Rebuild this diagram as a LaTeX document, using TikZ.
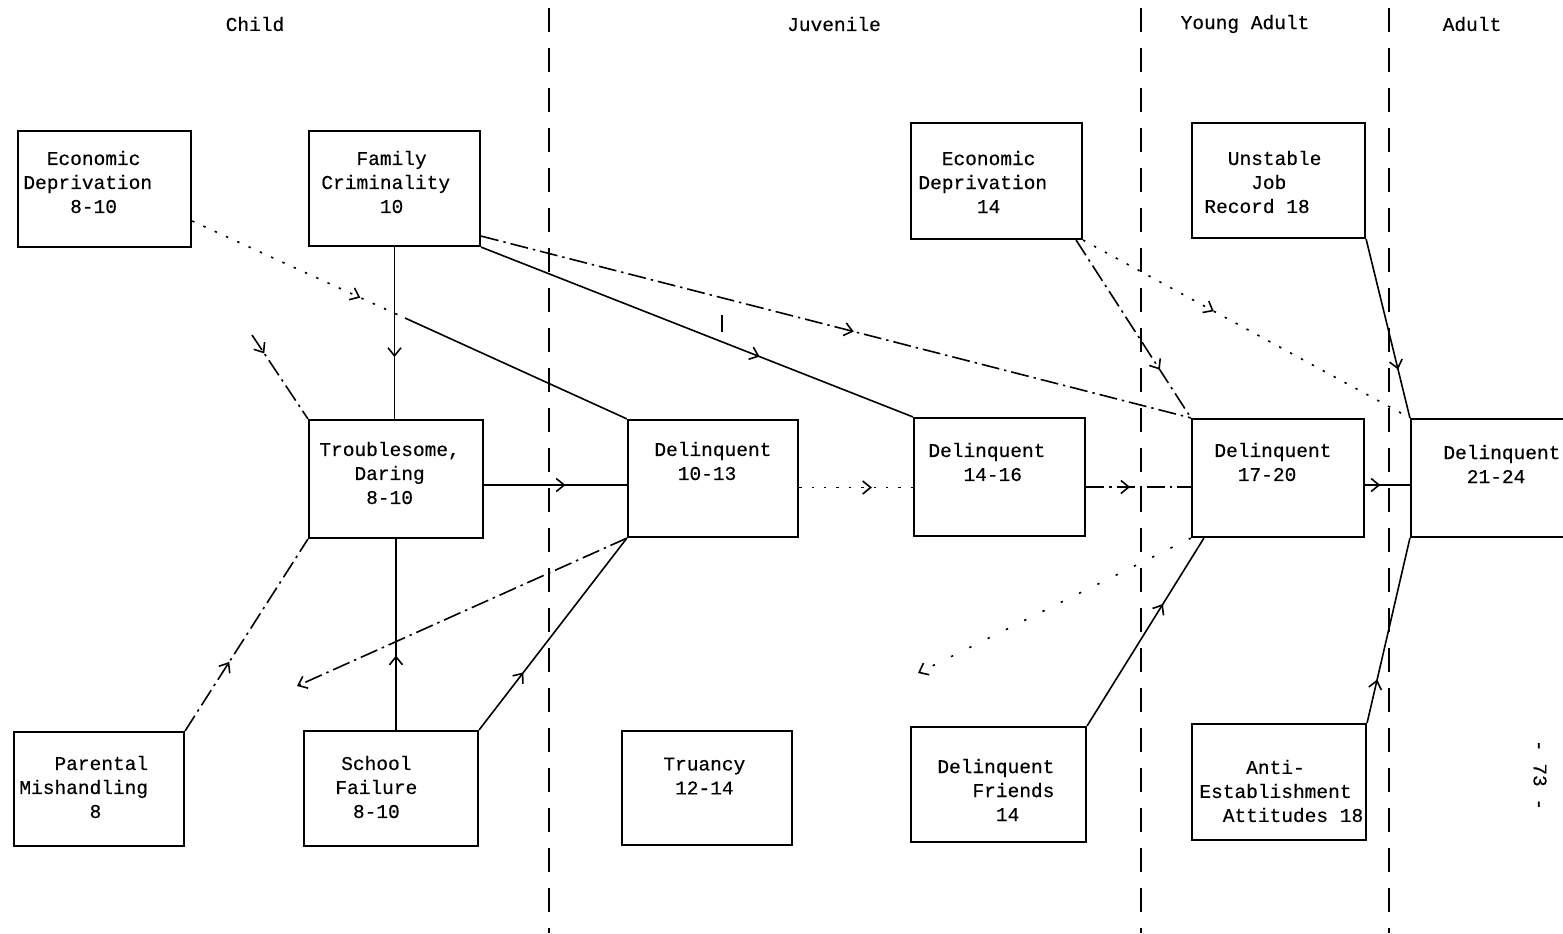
\documentclass[tikz,border=0pt]{standalone}
\usepackage{fontspec}
\newfontfamily\tw[FakeBold=0.4]{Liberation Mono}
\usetikzlibrary{arrows.meta,decorations.markings,fit}
\begin{document}
\begin{tikzpicture}[x=0.5pt,y=-0.5pt,
  box/.style={draw, line width=1.1pt, inner sep=0pt},
  txt/.style={font=\tw\fontsize{9.75}{12}\selectfont, inner sep=0pt, anchor=west, align=left},
  hdr/.style={font=\tw\fontsize{9.75}{12}\selectfont, inner sep=0pt},
  conn/.style={line width=0.8pt},
  dd/.style={line width=0.8pt, dash pattern=on 9pt off 2.5pt on 1.2pt off 2.5pt},
  dts/.style={line width=0.8pt, dash pattern=on 1.2pt off 5pt},
  sparse/.style={line width=0.8pt, dash pattern=on 1.2pt off 9pt},
  sep/.style={line width=0.9pt, dash pattern=on 12pt off 8pt},
  marr/.style={postaction={decorate}, decoration={markings, mark=at position #1 with {\arrow{Straight Barb[length=4pt,width=6.5pt,line width=0.8pt]}}}},
  endarr/.style={-{Straight Barb[length=4pt,width=6.5pt,line width=0.8pt]}}
]
\useasboundingbox (0,0) rectangle (1563,933);
\clip (0,0) rectangle (1563,933);

% period separators
\coordinate (s1a) at (549,8);   \coordinate (s1b) at (549,933);
\coordinate (s2a) at (1141,8);  \coordinate (s2b) at (1141,933);
\coordinate (s3a) at (1389,8);  \coordinate (s3b) at (1389,933);
\draw[sep] (s1a) -- (s1b);
\draw[sep] (s2a) -- (s2b);
\draw[sep] (s3a) -- (s3b);

% headers
\node[hdr] (hchild) at (255,24) {Child};
\node[hdr] (hjuv) at (834,24) {Juvenile};
\node[hdr] (hya) at (1245,24) {Young Adult};
\node[hdr] (hadult) at (1472,24) {Adult};

% boxes
\node[box, fit={(18,131)(191,247)}] (ed1) {};
\node[box, fit={(309,131)(480,246)}] (fc) {};
\node[box, fit={(309,420)(483,538)}] (td) {};
\node[box, fit={(14,732)(184,846)}] (pm) {};
\node[box, fit={(304,731)(478,846)}] (sf) {};
\node[box, fit={(628,420)(798,537)}] (d1013) {};
\node[box, fit={(622,731)(792,845)}] (tru) {};
\node[box, fit={(911,123)(1082,239)}] (ed14) {};
\node[box, fit={(914,418)(1085,536)}] (d1416) {};
\node[box, fit={(911,727)(1086,842)}] (df14) {};
\node[box, fit={(1192,123)(1365,238)}] (ujr) {};
\node[box, fit={(1192,419)(1364,537)}] (d1720) {};
\node[box, fit={(1192,724)(1366,840)}] (ae18) {};
\node[box, fit={(1411,419)(1590,537)}] (d2124) {};

% box texts
\node[txt] (ted1) at (23,182) {\hphantom{00}Economic\\Deprivation\\\hphantom{0000}8-10};
\node[txt] (tfc) at (321,182) {\hphantom{000}Family\\Criminality\\\hphantom{00000}10};
\node[txt] (ttd) at (319,473) {Troublesome,\\\hphantom{000}Daring\\\hphantom{0000}8-10};
\node[txt] (tpm) at (19,787) {\hphantom{000}Parental\\Mishandling\\\hphantom{000000}8};
\node[txt, align=center] (tsf) at (335,787) {School\\Failure\\8-10};
\node[txt] (td1013) at (654,461) {Delinquent\\\hphantom{00}10-13};
\node[txt] (ttru) at (663,776) {Truancy\\\hphantom{0}12-14};
\node[txt] (ted14) at (918,182) {\hphantom{00}Economic\\Deprivation\\\hphantom{00000}14};
\node[txt] (td1416) at (928,462) {Delinquent\\\hphantom{000}14-16};
\node[txt] (tdf14) at (937,790) {Delinquent\\\hphantom{000}Friends\\\hphantom{00000}14};
\node[txt] (tujr) at (1204,182) {\hphantom{00}Unstable\\\hphantom{0000}Job\\Record 18};
\node[txt] (td1720) at (1214,462) {Delinquent\\\hphantom{00}17-20};
\node[txt] (tae18) at (1199,791) {\hphantom{0000}Anti-\\Establishment\\\hphantom{00}Attitudes 18};
\node[txt] (td2124) at (1443,464) {Delinquent\\\hphantom{00}21-24};

% page number
\node[hdr, rotate=-90] (pg) at (1540,775) {- 73 -};

% helper coordinates
\coordinate (k1) at (405,318);
\coordinate (c7) at (252,335);
\coordinate (c9) at (297,686);
\coordinate (c19) at (918,673);
\coordinate (tk1) at (722,315);
\coordinate (tk2) at (722,332);

% connectors
\draw[conn, marr=0.64] (fc.south) -- (fc.south |- td.north);
\draw[conn, marr=0.39] (td.south |- sf.north) -- (td.south);
\draw[conn, marr=0.57] ([yshift=-3pt]td.east) -- ([yshift=-3pt]td.east -| d1013.west);
\draw[conn, marr=0.645] (fc.south east) -- (d1416.north west);
\draw[dd, marr=0.525] ([yshift=5.5pt]fc.south east) -- (d1720.north west);
\draw[dts, marr=0.79] ([yshift=-16pt]ed1.east) -- (k1);
\draw[conn] (k1) -- (d1013.north west);
\draw[dd, marr=0.22] (c7) -- (td.north west);
\draw[dd, marr=0.36] (pm.north east) -- (td.south west);
\draw[dd, endarr] (d1013.south west) -- (c9);
\draw[conn, marr=0.30] (sf.north east) -- (d1013.south west);
\draw[dts, marr=0.64] ([yshift=-4.5pt]d1013.east) -- ([yshift=-4.5pt]d1013.east -| d1416.west);
\draw[dd, marr=0.42] ([yshift=-5pt]d1416.east) -- ([yshift=-5pt]d1416.east -| d1720.west);
\draw[conn, marr=0.34] ([yshift=-3.5pt]d1720.east) -- ([yshift=-3.5pt]d1720.east -| d2124.west);
\draw[dd, marr=0.73] ([xshift=-3.5pt]ed14.south east) -- (d1720.north west);
\draw[dts, marr=0.40] (ed14.south east) -- (d2124.north west);
\draw[conn, marr=0.73] (ujr.south east) -- (d2124.north west);
\draw[conn, marr=0.65] (df14.north east) -- ([xshift=6.5pt]d1720.south west);
\draw[conn, marr=0.235] (ae18.north east) -- (d2124.south west);
\draw[sparse, endarr] (d1720.south west) -- (c19);
\draw[line width=0.8pt] (tk1) -- (tk2);
\end{tikzpicture}
\end{document}
